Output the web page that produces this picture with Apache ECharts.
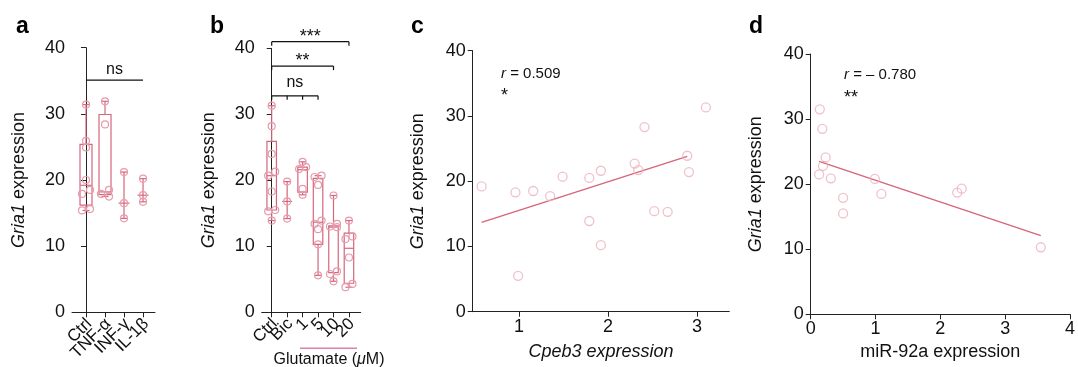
<!DOCTYPE html>
<html><head><meta charset="utf-8">
<script src="https://cdn.jsdelivr.net/npm/echarts@6/dist/echarts.min.js"></script>
<style>html,body{margin:0;padding:0;background:#fff}#c{width:1078px;height:367px}</style>
</head><body><div id="c"></div>
<script>
// ---------- Panel a ----------
const catsA = ['Ctrl', 'TNF-α', 'INF-γ', 'IL-1β'];
const ptsA = [
  [31.4, 25.9, 24.9, 20.0, 18.5, 17.9, 15.6, 15.4],
  [31.9, 28.4, 18.5, 17.9, 17.5],
  [21.2, 16.5, 14.2],
  [20.2, 17.7, 16.7]
];
// [min, Q1, median, Q3, max]; null quartiles = median & range only
const statsA = [
  [15.4, 16.2, 19.2, 25.4, 31.4],
  [17.5, 17.8, 18.2, 29.9, 31.9],
  [14.2, null, 16.5, null, 21.2],
  [16.7, null, 17.7, null, 20.2]
];
const sigA = [['ns', 0, 3, 35.1, []]];

// ---------- Panel b ----------
const catsB = ['Ctrl', 'Bic', '1', '5', '10', '20'];
const ptsB = [
  [31.3, 28.2, 24.0, 21.3, 20.7, 18.3, 15.5, 15.3, 13.9],
  [19.8, 16.8, 14.2],
  [22.8, 22.0, 21.7, 18.7, 17.8],
  [20.7, 20.5, 19.3, 13.9, 13.4, 12.6, 10.3, 5.6],
  [17.7, 13.4, 13.0, 12.9, 6.2, 5.8, 4.7],
  [13.9, 11.5, 11.1, 8.3, 4.3, 3.8]
];
const statsB = [
  [13.9, 15.5, 20.7, 25.9, 31.3],
  [14.2, null, 16.8, null, 19.8],
  [17.8, 18.2, 21.6, 22.0, 22.8],
  [5.6, 10.3, 13.65, 20.3, 20.7],
  [4.7, 6.0, 12.9, 13.1, 17.7],
  [3.8, 4.4, 9.7, 12.0, 13.9]
];
const sigB = [
  ['***', 0, 5, 41.0, [0, 5]],
  ['**', 0, 4, 37.3, [0, 4]],
  ['ns', 0, 3, 32.8, [0, 1, 2, 3]]
];

// ---------- Panel c ----------
const cpeb3 = [0.58, 0.96, 1.16, 1.35, 1.49, 1.79, 1.92, 1.79, 1.92, 0.99, 2.30, 2.34, 2.41, 2.52, 2.67, 2.89, 2.91, 3.10];
const griaC = [19.2, 18.3, 18.5, 17.7, 20.7, 20.5, 21.6, 13.9, 10.2, 5.5, 22.7, 21.7, 28.3, 15.4, 15.3, 23.9, 21.4, 31.3];
const fitCx = [0.58, 2.89];
const fitCy = [13.7, 23.8];
const ticksC = [1, 2, 3];

// ---------- Panel d ----------
const mir92a = [0.14, 0.18, 0.23, 0.19, 0.13, 0.31, 0.50, 0.50, 0.99, 1.09, 2.26, 2.33, 3.55];
const griaD = [31.5, 28.5, 24.1, 22.8, 21.5, 20.9, 17.9, 15.5, 20.8, 18.5, 18.7, 19.3, 10.3];
const fitDx = [0.13, 3.55];
const fitDy = [23.5, 12.1];

const yTicks = [0, 10, 20, 30, 40];

// ---------- styling ----------
const FONT = '"Liberation Sans", Arial, Helvetica, sans-serif';
const TXT = '#111';
const AX = '#222';
const BOX = '#d4677c', PT = '#e69cac', SC = '#ecb2be', FIT = '#d66577';

const chart = echarts.init(document.getElementById('c'), null, {renderer: 'canvas'});

function yAxis(grid, gap) {
  return {
    type: 'value', gridIndex: grid, min: yTicks[0], max: yTicks[yTicks.length - 1], interval: 10,
    name: '{i|Gria1} expression', nameLocation: 'middle', nameGap: gap,
    nameTextStyle: {fontFamily: FONT, fontSize: 18, color: TXT,
      rich: {i: {fontStyle: 'italic', fontFamily: FONT, fontSize: 18, color: TXT}}},
    axisLine: {show: true, lineStyle: {color: AX, width: 1}},
    axisTick: {show: true, length: 5, lineStyle: {color: AX, width: 1}},
    axisLabel: {fontFamily: FONT, fontSize: 18, color: TXT, margin: 7},
    splitLine: {show: false}
  };
}
function catAxis(grid, cats, min, max) {
  const idx = cats.map((_, i) => i);
  return {
    type: 'value', gridIndex: grid, min: min, max: max,
    axisLine: {show: true, onZero: false, lineStyle: {color: AX, width: 1}},
    axisTick: {show: true, length: 5, customValues: idx, lineStyle: {color: AX, width: 1}},
    axisLabel: {show: false},
    splitLine: {show: false}
  };
}

function boxSeries(ax, cats, pts, stats, o) {
  return {
    type: 'custom', xAxisIndex: ax, yAxisIndex: ax, clip: false, silent: true, z: 3,
    data: stats.map((s, i) => [i, s[0], s[4]]),
    encode: {x: 0, y: [1, 2]},
    renderItem: (params, api) => {
      const i = params.dataIndex, s = stats[i];
      const P = v => api.coord([i, v]);
      const cx = P(s[2])[0];
      const ch = [];
      const ls = {stroke: BOX, lineWidth: 1.2, fill: null};
      const line = (x1, y1, x2, y2) => ch.push({type: 'line', shape: {x1, y1, x2, y2}, style: ls});
      const yMin = P(s[0])[1], yMax = P(s[4])[1], yMed = P(s[2])[1];
      if (s[1] != null) {
        const y1 = P(s[1])[1], y3 = P(s[3])[1];
        ch.push({type: 'rect', shape: {x: cx - o.boxW / 2, y: y3, width: o.boxW, height: y1 - y3}, style: ls});
        line(cx, y3, cx, yMax); line(cx, y1, cx, yMin);
      } else {
        line(cx, yMax, cx, yMin);
      }
      line(cx - o.capW / 2, yMax, cx + o.capW / 2, yMax);
      line(cx - o.capW / 2, yMin, cx + o.capW / 2, yMin);
      line(cx - o.medW / 2, yMed, cx + o.medW / 2, yMed);
      const ys = pts[i].map(v => P(v)[1]);
      let k = 0;
      while (k < ys.length) {
        let j = k;
        while (j + 1 < ys.length && Math.abs(ys[j + 1] - ys[j]) < o.thr) j++;
        const n = j - k + 1;
        for (let m = 0; m < n; m++) {
          const off = n === 1 ? 0 : (m % 2 === 0 ? 1 : -1) * o.step;
          ch.push({type: 'circle', shape: {cx: cx + off, cy: ys[k + m], r: o.r},
            style: {stroke: PT, fill: null, lineWidth: 1.2}});
        }
        k = j + 1;
      }
      // rotated category label under the tick
      const base = P(0)[1];
      ch.push({type: 'text', x: cx + 3, y: base + 9, rotation: Math.PI / 4,
        style: {text: cats[i], align: 'right', verticalAlign: 'middle', fontFamily: FONT, fontSize: 17, fill: TXT}});
      return {type: 'group', children: ch};
    }
  };
}

function bracketSeries(ax, sig, nsOff) {
  return {
    type: 'custom', xAxisIndex: ax, yAxisIndex: ax, clip: false, silent: true, z: 4,
    data: sig.map(s => [s[1], s[2], s[3]]),
    encode: {x: [0, 1], y: 2},
    renderItem: (params, api) => {
      const s = sig[params.dataIndex];
      const a = api.coord([s[1], s[3]]), b = api.coord([s[2], s[3]]);
      const st = {stroke: TXT, lineWidth: 1.2};
      const ch = [{type: 'line', shape: {x1: a[0], y1: a[1], x2: b[0], y2: b[1]}, style: st}];
      s[4].forEach(d => {
        const p = api.coord([d, s[3]]);
        ch.push({type: 'line', shape: {x1: p[0], y1: p[1], x2: p[0], y2: p[1] + 4}, style: st});
      });
      const star = s[0].indexOf('*') >= 0;
      ch.push({type: 'text', style: {text: s[0], x: (a[0] + b[0]) / 2, y: a[1] - (star ? 5 : nsOff),
        align: 'center', verticalAlign: 'middle', fontFamily: FONT, fontSize: star ? 18 : 16, fill: TXT}});
      return {type: 'group', children: ch};
    }
  };
}

function scatter(ax, xs, ys) {
  return {type: 'scatter', xAxisIndex: ax, yAxisIndex: ax, symbol: 'circle', symbolSize: 9,
    data: xs.map((x, i) => [x, ys[i]]), silent: true,
    itemStyle: {color: 'rgba(0,0,0,0)', borderColor: SC, borderWidth: 1.3}};
}
function fit(ax, xs, ys) {
  return {type: 'line', xAxisIndex: ax, yAxisIndex: ax, symbol: 'none', silent: true,
    data: xs.map((x, i) => [x, ys[i]]), lineStyle: {color: FIT, width: 1.3}, z: 1};
}

const option = {
  animation: false,
  backgroundColor: '#fff',
  textStyle: {fontFamily: FONT},
  grid: [
    {left: 72, top: 47.7, width: 83, height: 264.6},
    {left: 261.7, top: 48.3, width: 99, height: 264},
    {left: 472.7, top: 50.7, width: 256.6, height: 261},
    {left: 810.7, top: 54, width: 260, height: 260.3}
  ],
  xAxis: [
    catAxis(0, catsA, -0.737, 3.63),
    catAxis(1, catsB, -0.647, 5.76),
    {type: 'value', gridIndex: 2, min: 0.48, max: 3.363,
      name: 'Cpeb3 expression', nameLocation: 'middle', nameGap: 31,
      nameTextStyle: {fontFamily: FONT, fontSize: 18, fontStyle: 'italic', color: TXT},
      axisLine: {show: true, onZero: false, lineStyle: {color: AX, width: 1}},
      axisTick: {show: true, length: 5, customValues: ticksC, lineStyle: {color: AX}},
      axisLabel: {customValues: ticksC, fontFamily: FONT, fontSize: 18, color: TXT, margin: 6},
      splitLine: {show: false}},
    {type: 'value', gridIndex: 3, min: 0, max: 4, interval: 1,
      name: 'miR-92a expression', nameLocation: 'middle', nameGap: 28,
      nameTextStyle: {fontFamily: FONT, fontSize: 18, color: TXT},
      axisLine: {show: true, onZero: false, lineStyle: {color: AX, width: 1}},
      axisTick: {show: true, length: 5, lineStyle: {color: AX}},
      axisLabel: {fontFamily: FONT, fontSize: 18, color: TXT, margin: 6},
      splitLine: {show: false}}
  ],
  yAxis: [yAxis(0, 44), yAxis(1, 44), yAxis(2, 46), yAxis(3, 46)],
  series: [
    boxSeries(0, catsA, ptsA, statsA, {boxW: 12, capW: 7, medW: 11, r: 3.5, step: 4, thr: 5}),
    bracketSeries(0, sigA, 10.5),
    boxSeries(1, catsB, ptsB, statsB, {boxW: 9.5, capW: 7, medW: 10, r: 3.5, step: 3.5, thr: 5}),
    bracketSeries(1, sigB, 13),
    fit(2, fitCx, fitCy),
    scatter(2, cpeb3, griaC),
    fit(3, fitDx, fitDy),
    scatter(3, mir92a, griaD)
  ],
  graphic: [
    {type: 'text', left: 16, top: 15, style: {text: 'a', fontFamily: FONT, fontSize: 23, fontWeight: 'bold', fill: '#000'}},
    {type: 'text', left: 210, top: 15, style: {text: 'b', fontFamily: FONT, fontSize: 23, fontWeight: 'bold', fill: '#000'}},
    {type: 'text', left: 411, top: 15, style: {text: 'c', fontFamily: FONT, fontSize: 23, fontWeight: 'bold', fill: '#000'}},
    {type: 'text', left: 749, top: 15, style: {text: 'd', fontFamily: FONT, fontSize: 23, fontWeight: 'bold', fill: '#000'}},
    {type: 'text', x: 501, y: 73.5, style: {text: '{i|r} = 0.509', verticalAlign: 'middle', fontFamily: FONT, fontSize: 15, fill: TXT,
      rich: {i: {fontStyle: 'italic', fontFamily: FONT, fontSize: 15, fill: TXT}}}},
    {type: 'text', x: 501, y: 96.5, style: {text: '*', verticalAlign: 'middle', fontFamily: FONT, fontSize: 18, fill: TXT}},
    {type: 'text', x: 844, y: 75, style: {text: '{i|r} = – 0.780', verticalAlign: 'middle', fontFamily: FONT, fontSize: 15, fill: TXT,
      rich: {i: {fontStyle: 'italic', fontFamily: FONT, fontSize: 15, fill: TXT}}}},
    {type: 'text', x: 844, y: 98, style: {text: '**', verticalAlign: 'middle', fontFamily: FONT, fontSize: 18, fill: TXT}},
    {type: 'line', shape: {x1: 300, y1: 348.3, x2: 357, y2: 348.3}, style: {stroke: '#e27db3', lineWidth: 1.4}},
    {type: 'text', x: 329, y: 360, style: {text: 'Glutamate ({i|μ}M)', align: 'center', verticalAlign: 'middle', fontFamily: FONT, fontSize: 16, fill: TXT,
      rich: {i: {fontStyle: 'italic', fontFamily: FONT, fontSize: 16, fill: TXT}}}}
  ]
};
chart.setOption(option);
</script>
</body></html>
